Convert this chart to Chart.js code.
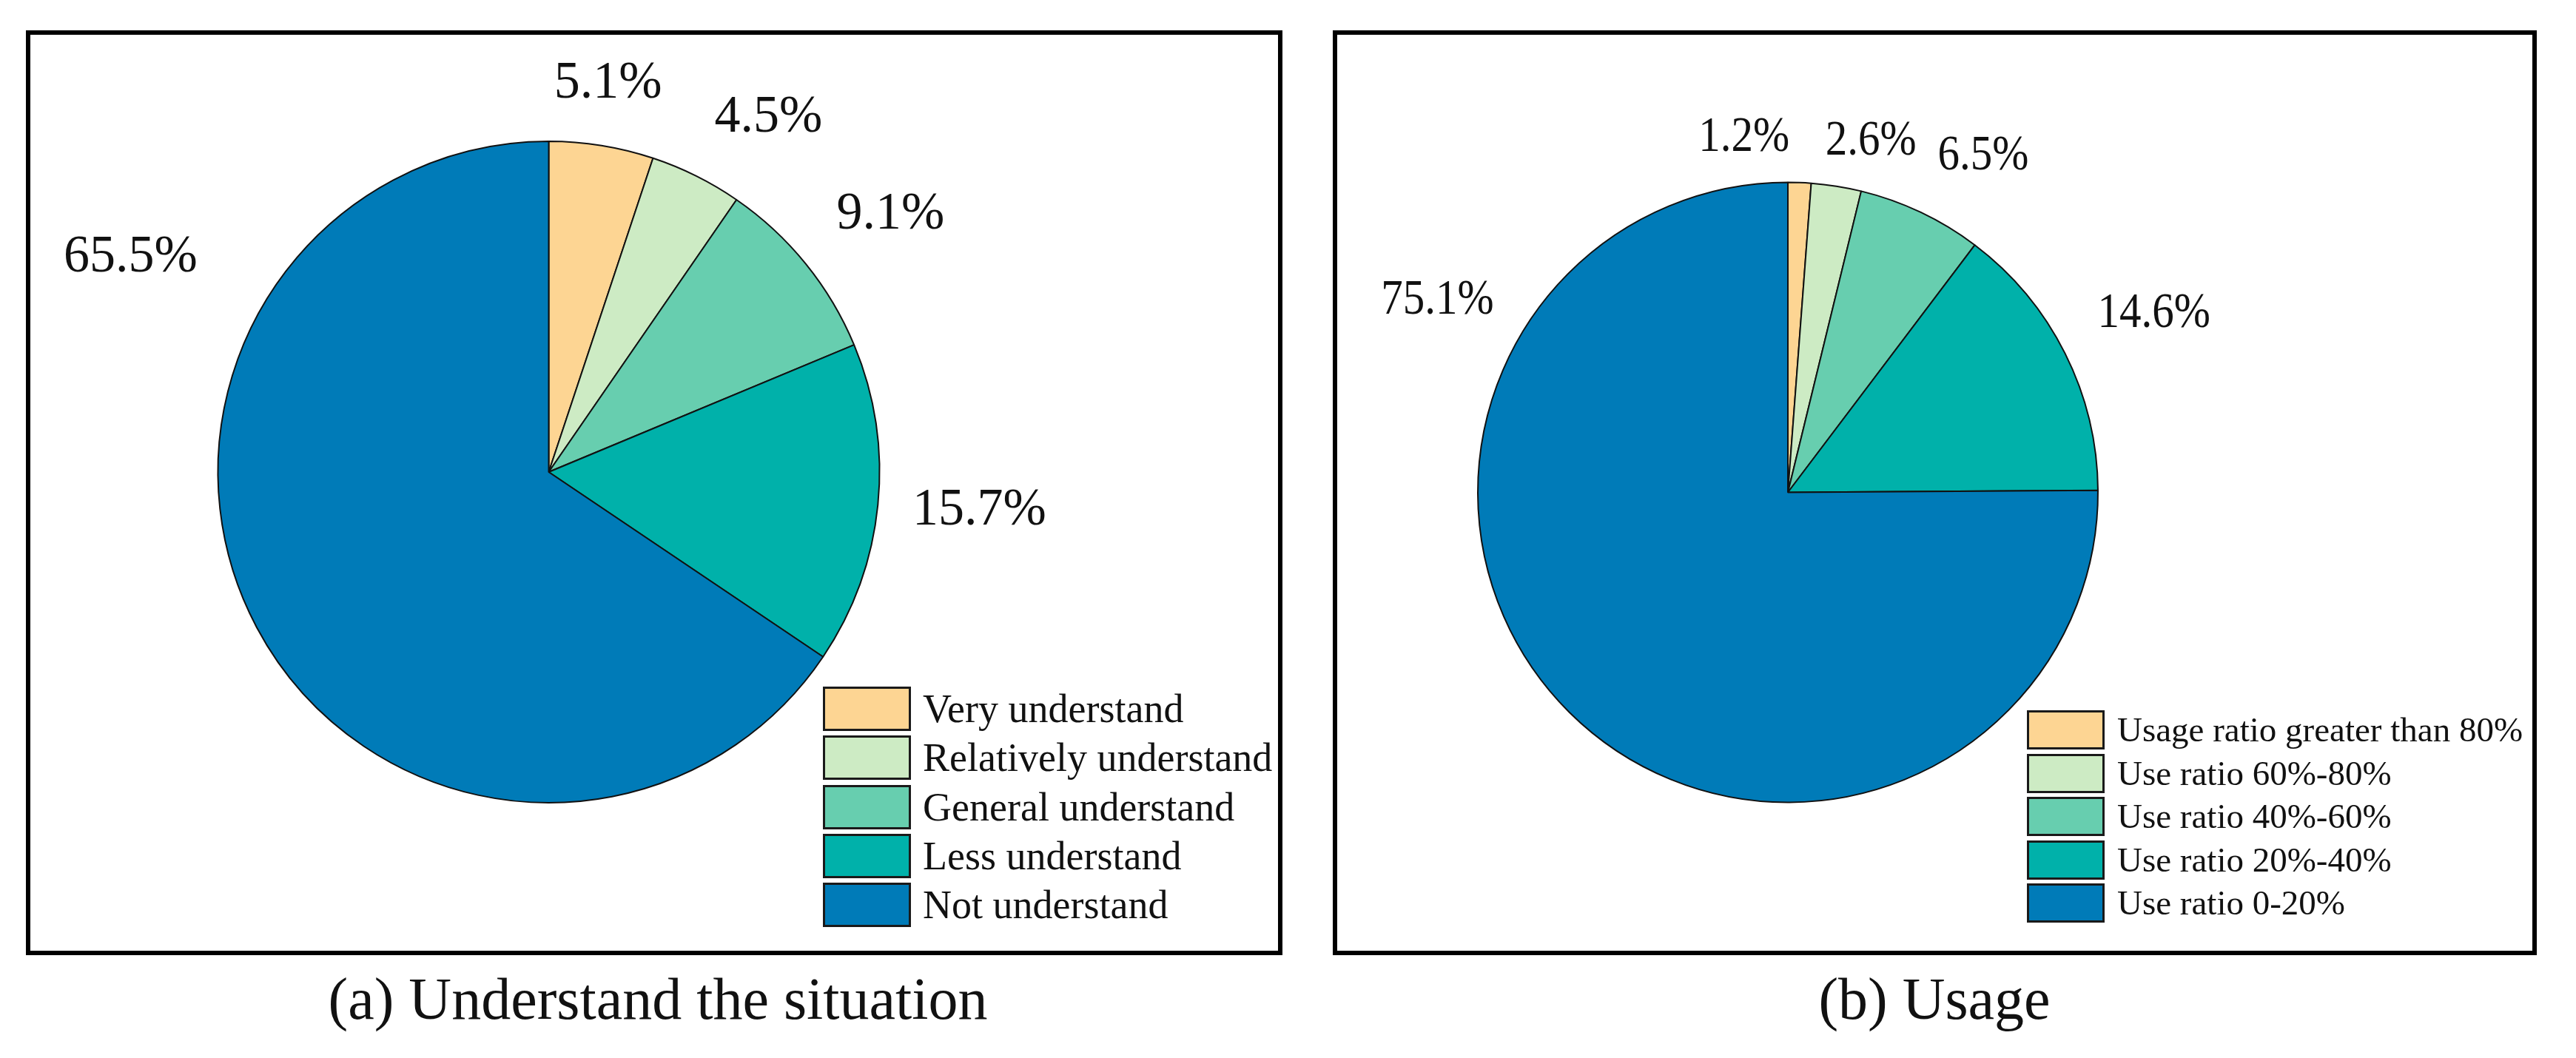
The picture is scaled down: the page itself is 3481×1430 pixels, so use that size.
<!DOCTYPE html>
<html>
<head>
<meta charset="utf-8">
<script src="https://cdn.jsdelivr.net/npm/chart.js@4.4.0/dist/chart.umd.min.js"></script>
<style>
  body {
    margin: 0;
    width: 3481px;
    height: 1430px;
    background: #fff;
    position: relative;
    overflow: hidden;
    font-family: "Liberation Serif", "Times New Roman", serif;
    color: #111;
  }
  .frame {
    position: absolute;
    border: 6px solid #000;
    box-sizing: border-box;
  }
  .frame canvas {
    position: absolute;
    left: 0;
    top: 0;
  }
  .legend {
    position: absolute;
  }
  .legend-row {
    position: absolute;
    left: 0;
    display: flex;
    align-items: center;
    white-space: nowrap;
  }
  .legend-box {
    box-sizing: border-box;
    border: 3px solid #1a1a1a;
    flex: none;
  }
  .legend-text {
    line-height: 1;
  }
  .caption {
    position: absolute;
    top: 1310px;
    font-size: 80px;
    line-height: 80px;
    white-space: nowrap;
    transform: translateX(-50%);
  }
</style>
</head>
<body>
<div class="frame" id="frameA"><canvas id="pieA"></canvas><div class="legend" id="legendA"></div></div>
<div class="frame" id="frameB"><canvas id="pieB"></canvas><div class="legend" id="legendB"></div></div>
<div class="caption" style="left:889px">(a) Understand the situation</div>
<div class="caption" style="left:2614px">(b) Usage</div>

<script>
// Data
const understandLabels = [
  "Very understand",
  "Relatively understand",
  "General understand",
  "Less understand",
  "Not understand",
];
const understandValues = [5.1, 4.5, 9.1, 15.7, 65.5];

const usageLabels = [
  "Usage ratio greater than 80%",
  "Use ratio 60%-80%",
  "Use ratio 40%-60%",
  "Use ratio 20%-40%",
  "Use ratio 0-20%",
];
const usageValues = [1.2, 2.6, 6.5, 14.6, 75.1];

const sliceColors = ["#FDD593", "#CDEBC4", "#67CEAF", "#00B1AA", "#007BB8"];

const BORDER = 6;
const SLICE_BORDER = 2;

// Percentage labels placed around each slice (angle shift in degrees, distance as share of radius)
const pctLabels = {
  id: "pctLabels",
  afterDatasetsDraw(chart, args, opts) {
    const ctx = chart.ctx;
    const meta = chart.getDatasetMeta(0);
    const values = chart.data.datasets[0].data;
    ctx.save();
    ctx.fillStyle = "#111";
    ctx.textAlign = "center";
    ctx.textBaseline = "middle";
    ctx.font = opts.size + 'px "Liberation Serif", serif';
    meta.data.forEach((arc, i) => {
      const p = arc.getProps(["x", "y", "startAngle", "endAngle", "outerRadius"], true);
      const a = (p.startAngle + p.endAngle) / 2 + (opts.shift[i] * Math.PI) / 180;
      const r = p.outerRadius * opts.dist[i];
      ctx.save();
      ctx.translate(p.x + Math.cos(a) * r, p.y + Math.sin(a) * r);
      ctx.scale(1, opts.stretch);
      ctx.fillText(values[i].toFixed(1) + "%", 0, 0);
      ctx.restore();
    });
    ctx.restore();
  },
};

function buildLegend(el, labels, colors, o) {
  el.style.left = o.left + "px";
  el.style.top = o.top + "px";
  labels.forEach((text, i) => {
    const row = document.createElement("div");
    row.className = "legend-row";
    row.style.top = i * o.pitch + "px";
    row.style.height = o.boxH + "px";
    const box = document.createElement("div");
    box.className = "legend-box";
    box.style.width = o.boxW + "px";
    box.style.height = o.boxH + "px";
    box.style.background = colors[i];
    const span = document.createElement("span");
    span.className = "legend-text";
    span.style.fontSize = o.fontSize + "px";
    span.style.marginLeft = o.gap + "px";
    span.textContent = text;
    row.appendChild(box);
    row.appendChild(span);
    el.appendChild(row);
  });
}

// frame: outer box in page pixels, cx/cy/r: pie in page pixels
function createPie(canvasId, frameId, legendId, frame, pie, labels, values, labelOpts, legendOpts) {
  const frameEl = document.getElementById(frameId);
  frameEl.style.left = frame.left + "px";
  frameEl.style.top = frame.top + "px";
  frameEl.style.width = frame.width + "px";
  frameEl.style.height = frame.height + "px";

  const W = frame.width - 2 * BORDER;
  const H = frame.height - 2 * BORDER;
  const canvas = document.getElementById(canvasId);
  canvas.width = W;
  canvas.height = H;
  canvas.style.width = W + "px";
  canvas.style.height = H + "px";

  const side = 2 * pie.r + SLICE_BORDER;
  const cx = pie.cx - frame.left - BORDER;
  const cy = pie.cy - frame.top - BORDER;
  const padLeft = cx - side / 2;
  const padTop = cy - side / 2;

  new Chart(canvas, {
    type: "pie",
    data: {
      labels: labels,
      datasets: [
        {
          data: values,
          backgroundColor: sliceColors,
          borderColor: "#111",
          borderWidth: SLICE_BORDER,
        },
      ],
    },
    options: {
      responsive: false,
      animation: false,
      devicePixelRatio: 1,
      layout: {
        padding: {
          left: padLeft,
          top: padTop,
          right: W - padLeft - side,
          bottom: H - padTop - side,
        },
      },
      plugins: {
        legend: { display: false },
        tooltip: { enabled: false },
        pctLabels: labelOpts,
      },
    },
    plugins: [pctLabels],
  });

  const legendEl = document.getElementById(legendId);
  buildLegend(legendEl, labels, sliceColors, {
    left: legendOpts.left - frame.left - BORDER,
    top: legendOpts.top - frame.top - BORDER,
    pitch: legendOpts.pitch,
    boxW: legendOpts.boxW,
    boxH: legendOpts.boxH,
    gap: legendOpts.gap,
    fontSize: legendOpts.fontSize,
  });
}

createPie(
  "pieA", "frameA", "legendA",
  { left: 35, top: 41, width: 1698, height: 1250 },
  { cx: 741.5, cy: 638, r: 447 },
  understandLabels, understandValues,
  { size: 70, stretch: 1.04, shift: [-0.5, 5.3, 2.0, -0.6, 55.2], dist: [1.188, 1.261, 1.294, 1.307, 1.421] },
  { left: 1112, top: 928, pitch: 66.3, boxW: 119, boxH: 60, gap: 16, fontSize: 54 }
);

createPie(
  "pieB", "frameB", "legendB",
  { left: 1801, top: 41, width: 1627, height: 1250 },
  { cx: 2416, cy: 665.5, r: 419 },
  usageLabels, usageValues,
  { size: 59, stretch: 1.15, shift: [-9.2, 4.3, 4.8, 0.6, 73.9], dist: [1.153, 1.164, 1.253, 1.314, 1.289] },
  { left: 2739, top: 960, pitch: 58.6, boxW: 105, boxH: 53, gap: 17, fontSize: 47 }
);
</script>
</body>
</html>
